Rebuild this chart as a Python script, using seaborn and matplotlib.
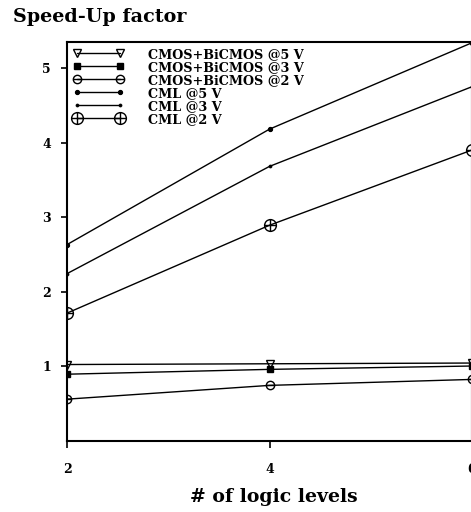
import matplotlib
matplotlib.use("Agg")
import matplotlib.pyplot as plt
from matplotlib.path import Path
import seaborn as sns
import pandas as pd

# Number of logic levels on the x axis
levels = [2, 4, 6]

# Speed-up factor for each technology / supply voltage
cmos_bicmos_5v = [1.02, 1.03, 1.04]
cmos_bicmos_3v = [0.89, 0.955, 1.0]
cmos_bicmos_2v = [0.555, 0.74, 0.82]
cml_5v = [2.63, 4.18, 5.34]
cml_3v = [2.24, 3.68, 4.75]
cml_2v = [1.71, 2.89, 3.90]

labels = ["CMOS+BiCMOS @5 V", "CMOS+BiCMOS @3 V", "CMOS+BiCMOS @2 V",
          "CML @5 V", "CML @3 V", "CML @2 V"]
series = [cmos_bicmos_5v, cmos_bicmos_3v, cmos_bicmos_2v, cml_5v, cml_3v, cml_2v]

# Custom markers: circle with a horizontal bar, and circle with a cross
theta = Path.make_compound_path(Path.unit_circle(), Path([(-1, 0), (1, 0)]))
oplus = Path.make_compound_path(Path.unit_circle(), Path([(-1, 0), (1, 0)]),
                                Path([(0, -1), (0, 1)]))

styles = [
    dict(marker="v", markersize=6, markerfacecolor="none", markeredgewidth=1.0),
    dict(marker="s", markersize=4.5, markerfacecolor="black", markeredgewidth=1.0),
    dict(marker=theta, markersize=6, markerfacecolor="none", markeredgewidth=1.0),
    dict(marker="o", markersize=3, markerfacecolor="black", markeredgewidth=0.8),
    dict(marker="o", markersize=2.2, markerfacecolor="black", markeredgewidth=0.5),
    dict(marker=oplus, markersize=8.5, markerfacecolor="none", markeredgewidth=1.0),
]

sns.set_theme(style="ticks")
plt.rcParams["font.family"] = ["DejaVu Serif"]
plt.rcParams["font.weight"] = "bold"
plt.rcParams["text.color"] = "black"
plt.rcParams["axes.labelcolor"] = "black"
plt.rcParams["xtick.color"] = "black"
plt.rcParams["ytick.color"] = "black"

fig = plt.figure(figsize=(4.71, 5.12), dpi=100)
ax = fig.add_axes([67 / 471, 71.5 / 512, (472 - 67) / 471, (440.5 - 42) / 512])

for lab, vals, st in zip(labels, series, styles):
    df = pd.DataFrame({"levels": levels, "speedup": vals})
    sns.lineplot(data=df, x="levels", y="speedup", ax=ax, color="black",
                 linewidth=1.0, markeredgecolor="black", label=lab, **st)

ax.set_xlim(2, 6)
ax.set_ylim(0, 5.35)
ax.set_xticks([2, 4, 6])
ax.set_yticks([1, 2, 3, 4, 5])
ax.set_xticklabels(["2", "4", "6"], fontsize=9, fontweight="bold")
ax.set_yticklabels(["1", "2", "3", "4", "5"], fontsize=9, fontweight="bold")
ax.tick_params(axis="x", direction="out", length=5, width=1.2, pad=11)
ax.tick_params(axis="y", direction="out", length=4.5, width=1.2, pad=7)
for sp in ax.spines.values():
    sp.set_linewidth(1.5)
    sp.set_color("black")

ax.set_xlabel("")
ax.set_ylabel("")

fig.text(13 / 471, 1 - 8 / 512, "Speed-Up factor", ha="left", va="top",
         fontsize=13.8, fontweight="bold")
fig.text(274 / 471, 1 - 497 / 512, "# of logic levels", ha="center", va="center",
         fontsize=13.6, fontweight="bold")

leg = ax.legend(loc="upper left", frameon=False, numpoints=2, handlelength=4,
                labelspacing=0.0, borderaxespad=0.25,
                borderpad=0.2, handletextpad=1.9,
                prop={"weight": "bold", "size": 9.2})

fig.savefig("out.png", dpi=100)
